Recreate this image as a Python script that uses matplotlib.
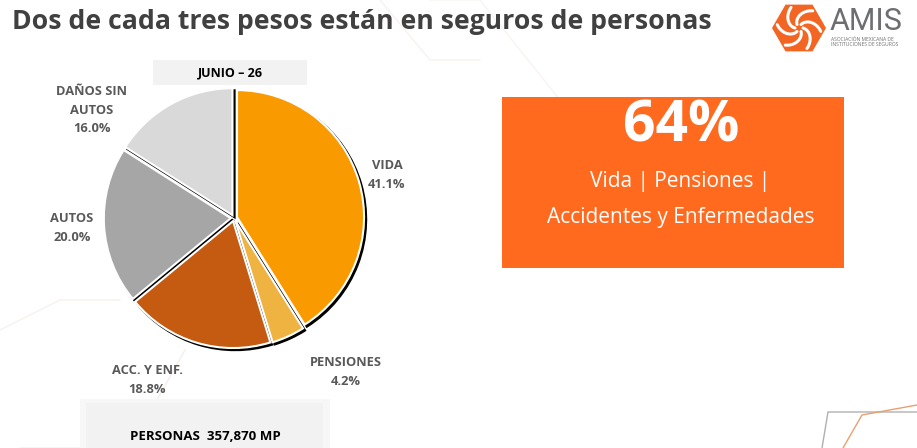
import numpy as np
import matplotlib
matplotlib.use("Agg")
import matplotlib.pyplot as plt
from matplotlib.patches import Rectangle, RegularPolygon

plt.rcParams['font.family'] = ['Open Sans', 'DejaVu Sans']

# datos
ramos = ['VIDA', 'PENSIONES', 'ACC. Y ENF.', 'AUTOS', 'DAÑOS SIN\nAUTOS']
participacion = [41.1, 4.2, 18.8, 20.0, 16.0]
colores = ['#F99A00', '#EEB341', '#C55A11', '#A6A6A6', '#D9D9D9']
titulo = 'Dos de cada tres pesos están en seguros de personas'
periodo = 'JUNIO – 26'
total = 'PERSONAS  357,870 MP'
destacado = '64%'
destacado_txt = ['Vida | Pensiones |', 'Accidentes y Enfermedades']

W, H = 917, 448
fig = plt.figure(figsize=(W / 100, H / 100), dpi=100)
fig.patch.set_facecolor('white')

# fondo en pixeles
bg = fig.add_axes([0, 0, 1, 1])
bg.set_xlim(0, W)
bg.set_ylim(H, 0)
bg.axis('off')

# lineas tenues de fondo
for xs, ys, c in [([0, 60, 120], [330, 300, 300], '#F8F1EC'),
                  ([380, 430, 480], [0, 60, 60], '#F8F2EE'),
                  ([430, 480, 600], [0, 0, 150], '#F9F4F0'),
                  ([20, 130, 185], [448, 448, 350], '#F6EEE8')]:
    bg.plot(xs, ys, color=c, lw=1.0, zorder=0)
bg.plot([822, 828, 917], [448, 412, 412], color='#B0B0B0', lw=1, zorder=0)
bg.plot([843, 862, 917], [448, 415, 405], color='#E8A070', lw=1, zorder=0)

bg.text(12, 22, titulo, fontsize=19.2, fontweight='bold', color='#404040',
        va='center', ha='left')

# logo
bg.add_patch(RegularPolygon((799, 28), 6, radius=27, orientation=np.pi / 6,
                            facecolor='#F26522', edgecolor='none'))
for k in range(6):
    a = np.pi / 3 * k
    t = np.linspace(0, 1, 20)
    r = 4 + 18 * t
    th = a + 1.2 * t
    bg.plot(799 + r * np.cos(th), 28 + r * np.sin(th), color='white', lw=2.2,
            solid_capstyle='round')
bg.text(830, 21, 'AMIS', fontsize=22, color='#6D6E71', va='center', ha='left',
        family=['Roboto', 'DejaVu Sans'])
bg.text(831, 39, 'ASOCIACIÓN MEXICANA DE', fontsize=3.6, color='#6D6E71',
        va='center', ha='left')
bg.text(831, 45, 'INSTITUCIONES DE SEGUROS', fontsize=3.6, color='#6D6E71',
        va='center', ha='left')

# caja periodo
bg.add_patch(Rectangle((153, 60), 154, 25, facecolor='#F2F2F2', edgecolor='none'))
bg.text(230, 73, periodo, fontsize=9, fontweight='bold', color='black',
        ha='center', va='center')

# caja total
bg.add_patch(Rectangle((80, 399), 250, 60, facecolor='#F7F7F7', edgecolor='none'))
bg.add_patch(Rectangle((86, 403), 237, 60, facecolor='#F2F2F2', edgecolor='none'))
bg.text(205, 437, total, fontsize=9.5, fontweight='bold', color='black',
        ha='center', va='center')

# caja destacado
bg.add_patch(Rectangle((502, 97), 342, 171, facecolor='#FF6A1F', edgecolor='none'))
bg.text(681, 127, destacado, fontsize=41, fontweight='bold', color='white',
        ha='center', va='center')
bg.text(680, 182, destacado_txt[0], fontsize=15, color='white',
        ha='center', va='center')
bg.text(681, 217, destacado_txt[1], fontsize=15, color='white',
        ha='center', va='center')

# pastel
cx, cy, R, half = 234, 218, 127, 145
pax = fig.add_axes([(cx - half) / W, 1 - (cy + half) / H, 2 * half / W, 2 * half / H])
pax.patch.set_alpha(0)
wedges, _ = pax.pie(participacion, colors=colores, startangle=90, counterclock=False,
                    explode=[0.025] * len(participacion),
                    wedgeprops=dict(edgecolor='white', linewidth=1.5),
                    shadow=dict(ox=0.012, oy=-0.012, shade=1.0, alpha=1.0))
pax.set_xlim(-half / R, half / R)
pax.set_ylim(-half / R, half / R)
pax.set_aspect('equal')
pax.axis('off')

# etiquetas (posicion en pixeles)
pos_etq = [(387, 175), (346, 372), (147, 380), (72, 228), (92, 110)]
for nombre, val, (x, y) in zip(ramos, participacion, pos_etq):
    bg.text(x, y, f'{nombre}\n{val:.1f}%', fontsize=9.3, fontweight='bold',
            color='#595959', ha='center', va='center', linespacing=1.55)

fig.savefig('out.png', dpi=100)
